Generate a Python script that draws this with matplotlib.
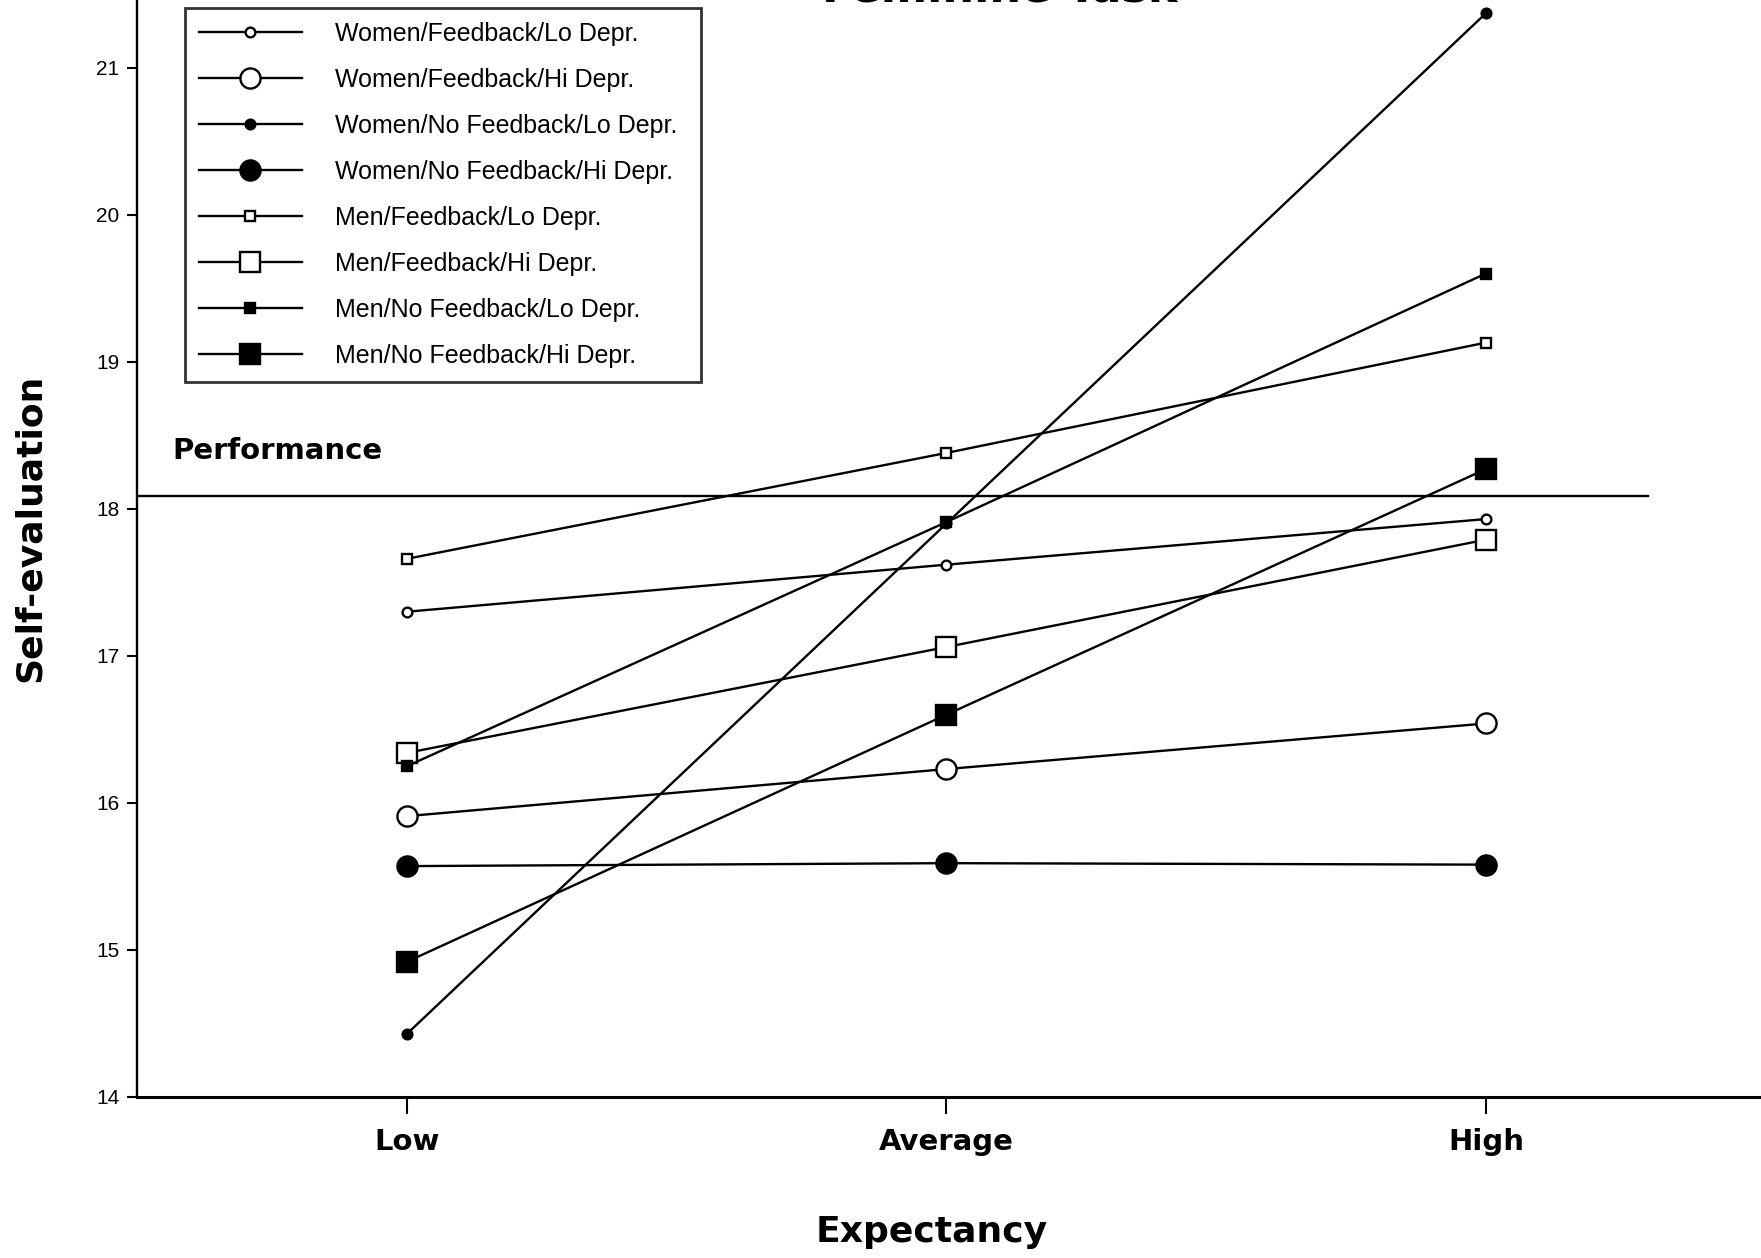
import matplotlib.pyplot as plt

# expectancy levels on the x axis
levels = ["Low", "Average", "High"]

# self-evaluation means
women_fb_lo = [17.30, 17.62, 17.93]
women_fb_hi = [15.91, 16.23, 16.54]
women_nofb_lo = [14.43, 17.90, 21.37]
women_nofb_hi = [15.57, 15.59, 15.58]
men_fb_lo = [17.66, 18.38, 19.13]
men_fb_hi = [16.34, 17.06, 17.79]
men_nofb_lo = [16.25, 17.91, 19.60]
men_nofb_hi = [14.92, 16.60, 18.27]

performance = 18.09

series = [
    ("Women/Feedback/Lo Depr.", women_fb_lo, "o", "white", 7),
    ("Women/Feedback/Hi Depr.", women_fb_hi, "o", "white", 14.5),
    ("Women/No Feedback/Lo Depr.", women_nofb_lo, "o", "black", 7),
    ("Women/No Feedback/Hi Depr.", women_nofb_hi, "o", "black", 14.5),
    ("Men/Feedback/Lo Depr.", men_fb_lo, "s", "white", 6.5),
    ("Men/Feedback/Hi Depr.", men_fb_hi, "s", "white", 14),
    ("Men/No Feedback/Lo Depr.", men_nofb_lo, "s", "black", 6.5),
    ("Men/No Feedback/Hi Depr.", men_nofb_hi, "s", "black", 14),
]

narrow = ["Liberation Sans Narrow", "Liberation Sans", "DejaVu Sans"]
boldfont = ["DejaVu Sans"]

fig = plt.figure(figsize=(17.61, 12.58), dpi=100)
ax = fig.add_axes([0.078, 0.128, 0.922, 0.872])

x = list(range(len(levels)))
handles = []
for label, vals, mk, fc, ms in series:
    h, = ax.plot(x, vals, color="black", linewidth=1.7, marker=mk, markersize=ms,
                 markerfacecolor=fc, markeredgecolor="black", markeredgewidth=1.7,
                 label=label)
    handles.append(h)

# performance reference line
ax.plot([-0.5, 2.3], [performance, performance], color="black", linewidth=1.7)
ax.text(-0.435, performance + 0.21, "Performance", fontsize=21, fontweight="bold",
        family=boldfont, ha="left", va="bottom")

ax.set_xlim(-0.5, 2.51)
ax.set_ylim(14, 21.46)
ax.set_xticks(x)
ax.set_xticklabels(levels, fontsize=21, fontweight="bold", family=boldfont)
ax.set_yticks(range(14, 22))
ax.set_yticklabels([str(v) for v in range(14, 22)], fontsize=15, family=narrow)
ax.tick_params(axis="x", direction="out", length=12, width=1.5, pad=10)
ax.tick_params(axis="y", direction="out", length=7, width=1.5, pad=6)

for s in ["top", "right"]:
    ax.spines[s].set_visible(False)
ax.spines["left"].set_linewidth(1.7)
ax.spines["bottom"].set_linewidth(2.2)

ax.set_xlabel("Expectancy", fontsize=26, fontweight="bold", family=boldfont)
ax.set_ylabel("Self-evaluation", fontsize=26, fontweight="bold", family=boldfont)
ax.xaxis.set_label_coords(0.4895, -0.123)
ax.xaxis.label.set_va("center")
ax.yaxis.set_label_coords(-0.066, 0.519)
ax.yaxis.label.set_va("center")

leg = ax.legend(handles=handles, loc="upper left",
                bbox_to_anchor=(0.0296, 0.8, 0.3175, 0.1927), mode="expand",
                prop={"family": narrow, "size": 18}, numpoints=1, handlelength=4.1,
                handletextpad=1.35, labelspacing=0.88, borderpad=0.55, frameon=True,
                fancybox=False, borderaxespad=0)
leg.get_frame().set_edgecolor("black")
leg.get_frame().set_linewidth(2.0)

# title sits mostly above the visible page
fig.text(0.568, 0.9985, "Feminine Task", fontsize=32, fontweight="bold",
         family=boldfont, ha="center", va="baseline")

fig.savefig("out.png", dpi=100, facecolor="white")
